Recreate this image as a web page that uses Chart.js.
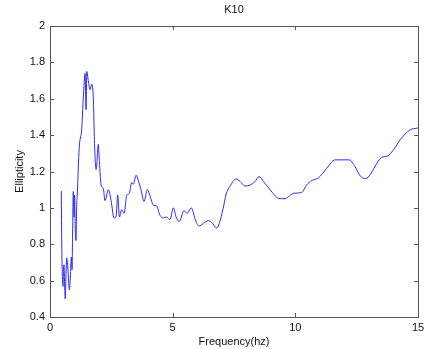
<!DOCTYPE html>
<html><head><meta charset="utf-8">
<script src="https://cdn.jsdelivr.net/npm/chart.js@4/dist/chart.umd.min.js"></script>
<style>html,body{margin:0;padding:0;background:#fff}#wrap{width:424px;height:349px}</style>
</head><body><div id="wrap"><canvas id="c" width="424" height="349"></canvas></div>
<script>
const chartTitle = "K10";
const xAxisLabel = "Frequency(hz)";
const yAxisLabel = "Ellipticity";
const xTicks = [0, 5, 10, 15];
const yTicks = [0.4, 0.6, 0.8, 1, 1.2, 1.4, 1.6, 1.8, 2];
const freq = [0.46,0.48,0.51,0.53,0.55,0.57,0.60,0.62,0.65,0.68,0.71,0.75,0.79,0.83,0.87,0.90,0.92,0.95,0.98,1.00,1.03,1.06,1.09,1.11,1.19,1.29,1.36,1.43,1.47,1.50,1.56,1.63,1.70,1.77,1.81,1.88,1.97,2.01,2.09,2.17,2.24,2.38,2.49,2.61,2.69,2.76,2.83,2.92,3.02,3.13,3.23,3.33,3.40,3.51,3.60,3.71,3.83,3.97,4.08,4.21,4.35,4.48,4.62,4.75,4.89,5.03,5.14,5.27,5.46,5.59,5.76,5.91,6.07,6.25,6.45,6.59,6.80,6.90,7.06,7.17,7.37,7.58,7.75,7.95,8.15,8.36,8.52,8.70,8.97,9.31,9.58,9.71,9.92,10.26,10.46,10.67,10.94,11.28,11.62,12.20,12.43,12.64,12.87,13.07,13.32,13.52,13.75,14.00,14.27,14.68,14.95,15.0];
const ellipticity = [1.093,0.79,0.60,0.568,0.66,0.687,0.56,0.50,0.62,0.725,0.70,0.62,0.549,0.62,0.73,0.66,0.85,1.09,0.95,1.07,0.88,0.82,1.03,1.07,1.33,1.43,1.61,1.74,1.54,1.75,1.70,1.65,1.68,1.59,1.37,1.21,1.35,1.26,1.12,1.11,1.04,1.10,1.04,0.945,0.95,1.07,0.95,0.99,0.97,1.07,1.08,1.14,1.13,1.18,1.15,1.10,1.035,1.10,1.065,1.015,1.01,0.96,0.945,0.95,0.935,1.0,0.95,0.925,0.985,0.97,1.0,0.94,0.90,0.915,0.93,0.92,0.889,0.915,0.998,1.071,1.126,1.159,1.145,1.12,1.125,1.145,1.172,1.145,1.10,1.053,1.05,1.06,1.08,1.085,1.126,1.15,1.165,1.218,1.264,1.264,1.227,1.176,1.161,1.187,1.245,1.278,1.285,1.319,1.374,1.429,1.438,1.44];

const FONT = "'Liberation Sans', Arial, sans-serif";
const boxPlugin = {
  id: 'box',
  afterDraw(chart) {
    const {ctx, chartArea: a, scales} = chart;
    ctx.save();
    ctx.strokeStyle = '#555';
    ctx.lineWidth = 1;
    ctx.strokeRect(Math.round(a.left)+0.5, Math.round(a.top)+0.5, Math.round(a.right-a.left), Math.round(a.bottom-a.top));
    const L = 4;
    ctx.beginPath();
    xTicks.forEach(v => {
      const x = Math.round(scales.x.getPixelForValue(v)) + 0.5;
      ctx.moveTo(x, a.bottom); ctx.lineTo(x, a.bottom - L);
      ctx.moveTo(x, a.top); ctx.lineTo(x, a.top + L);
    });
    yTicks.forEach(v => {
      const y = Math.round(scales.y.getPixelForValue(v)) + 0.5;
      ctx.moveTo(a.left, y); ctx.lineTo(a.left + L, y);
      ctx.moveTo(a.right, y); ctx.lineTo(a.right - L, y);
    });
    ctx.stroke();
    ctx.fillStyle = '#111';
    ctx.font = '11px ' + FONT;
    ctx.textAlign = 'center';
    ctx.textBaseline = 'middle';
    ctx.fillText(chartTitle, (a.left + a.right) / 2, 10);
    ctx.restore();
  }
};

new Chart(document.getElementById('c'), {
  type: 'line',
  data: {
    labels: freq,
    datasets: [{
      data: freq.map((f, i) => ({x: f, y: ellipticity[i]})),
      borderColor: '#2a2aff',
      borderWidth: 1,
      pointRadius: 0,
      fill: false,
      cubicInterpolationMode: 'monotone'
    }]
  },
  options: {
    responsive: false,
    animation: false,
    layout: {padding: {top: 26, right: 6, left: 13, bottom: 0}},
    plugins: {legend: {display: false}, tooltip: {enabled: false}, title: {display: false}},
    scales: {
      x: {
        type: 'linear', min: 0, max: 15,
        afterBuildTicks: s => { s.ticks = xTicks.map(v => ({value: v})); },
        afterFit: s => { s.height = 32; s.paddingRight = 0; s.paddingLeft = 0; },
        grid: {display: false, drawTicks: false},
        border: {display: false},
        ticks: {color: '#111', font: {family: FONT, size: 11}, padding: 4, maxRotation: 0,
                callback: v => String(v)},
        title: {display: true, text: xAxisLabel, color: '#111', font: {family: FONT, size: 11}, padding: {top: 1, bottom: 0}}
      },
      y: {
        type: 'linear', min: 0.4, max: 2,
        afterBuildTicks: s => { s.ticks = yTicks.map(v => ({value: v})); },
        afterFit: s => { s.width = 37; },
        grid: {display: false, drawTicks: false},
        border: {display: false},
        ticks: {color: '#111', font: {family: FONT, size: 11}, padding: 5,
                callback: v => String(Math.round(v * 10) / 10)},
        title: {display: true, text: yAxisLabel, color: '#111', font: {family: FONT, size: 11}, padding: {top: 0, bottom: 4}}
      }
    }
  },
  plugins: [boxPlugin]
});
</script>
</body></html>
